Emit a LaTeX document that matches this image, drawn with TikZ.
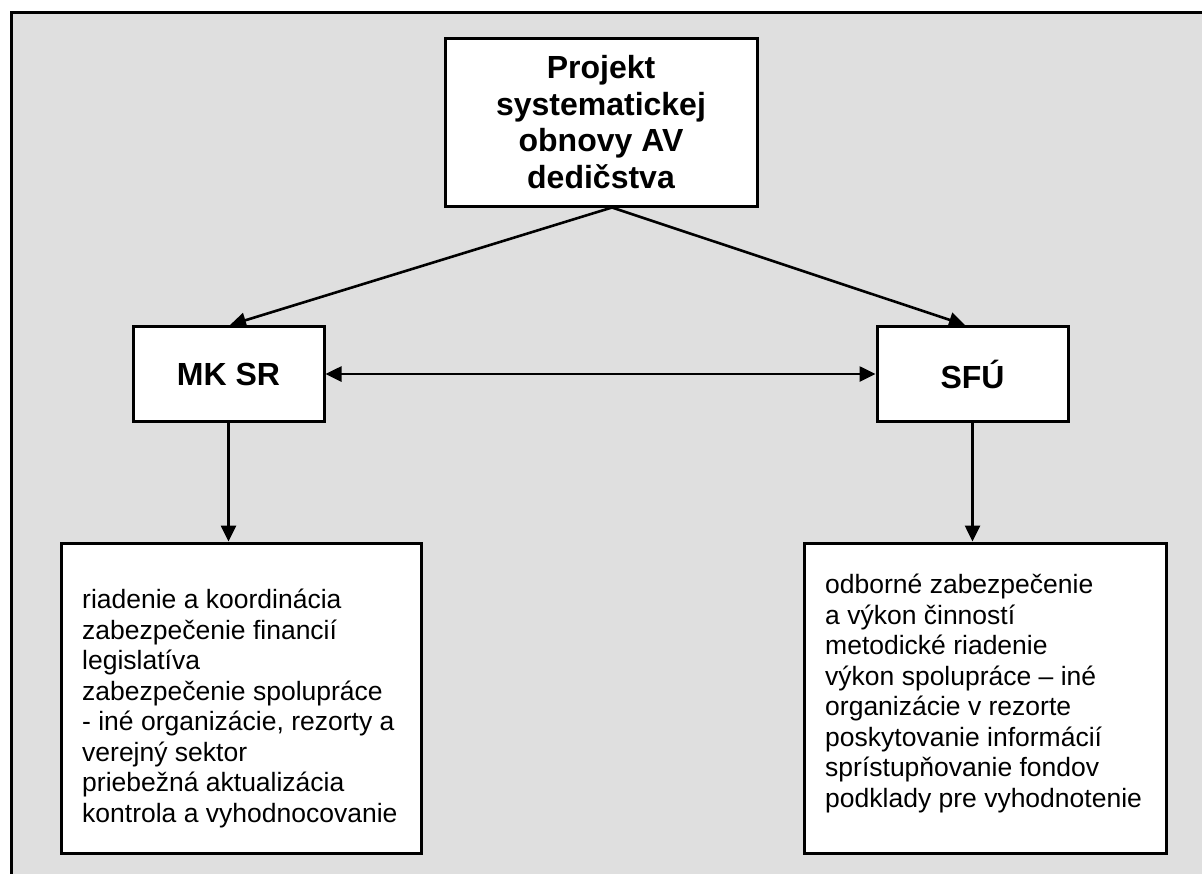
\documentclass[tikz,border=0pt]{standalone}
\usepackage{fontspec}
\setmainfont{Liberation Sans}
\usetikzlibrary{arrows.meta}

\tikzset{
  box/.style={draw, fill=white, line width=3pt, inner sep=0pt},
  headfont/.style={font=\fontsize{32}{36.5}\selectfont\bfseries},
  bodyfont/.style={font=\fontsize{26.5}{30.5}\selectfont},
  link/.style={line width=2.6pt, -{Triangle[length=16pt,width=15pt]}}
}

\begin{document}
\begin{tikzpicture}[x=1pt, y=-1pt]
  \useasboundingbox (0,0) rectangle (1202,873);
  \fill[gray!25] (11,12) rectangle (1230,900);
  \draw[line width=3pt] (1230,12) -- (11,12) -- (11,900);

  \node[box, minimum width=312, minimum height=168, headfont, align=center] (proj) at (601,122)
    {Projekt\\ systematickej\\ obnovy AV\\ dedičstva};
  \node[box, minimum width=191, minimum height=95, headfont] (mk) at (228.5,374) {MK SR};
  \node[box, minimum width=191, minimum height=95, headfont] (sfu) at (972.5,374) {SFÚ};

  \node[box, minimum width=360, minimum height=310] (mkbox) at (241,698) {};
  \node[box, minimum width=362, minimum height=310] (sfubox) at (985,698) {};

  \node[bodyfont, align=left, anchor=north west, inner sep=0pt] (mktext) at (82,589)
    {riadenie a koordinácia\\ zabezpečenie financií\\ legislatíva\\ zabezpečenie spolupráce\\
     - iné organizácie, rezorty a\\ verejný sektor\\ priebežná aktualizácia\\ kontrola a vyhodnocovanie};
  \node[bodyfont, align=left, anchor=north west, inner sep=0pt] (sfutext) at (825,574)
    {odborné zabezpečenie\\ a výkon činností\\ metodické riadenie\\ výkon spolupráce – iné\\
     organizácie v rezorte\\ poskytovanie informácií\\ sprístupňovanie fondov\\ podklady pre vyhodnotenie};

  % arrows
  \coordinate (split) at ([xshift=11pt]proj.south);
  \draw[link] (split) -- ([xshift=1.5pt]mk.north);
  \draw[link] (split) -- ([xshift=-7.5pt]sfu.north);
  \draw[link, {Triangle[length=16pt,width=15pt]}-{Triangle[length=16pt,width=15pt]}] (mk.east) -- (sfu.west);
  \draw[link] (mk.south) -- (mk.south |- mkbox.north);
  \draw[link] (sfu.south) -- (sfu.south |- sfubox.north);
\end{tikzpicture}
\end{document}
